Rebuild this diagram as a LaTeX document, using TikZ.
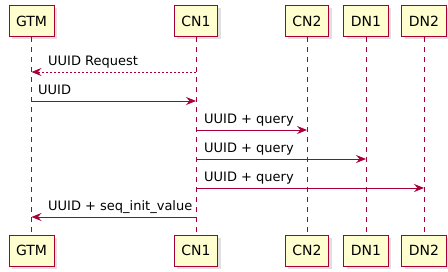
\documentclass[tikz,border=0pt]{standalone}
\usepackage{fontspec}
\setmainfont{DejaVu Sans}
\usetikzlibrary{arrows.meta,shadows}
\definecolor{pred}{HTML}{A80036}
\definecolor{pfill}{HTML}{FEFECE}
\begin{document}
\begin{tikzpicture}[x=1pt,y=-1pt,
 part/.style={draw=pred, fill=pfill, line width=0.9pt, minimum height=31pt, inner xsep=7pt,
   font=\fontsize{14}{16}\selectfont, text=black,
   drop shadow={shadow xshift=3pt, shadow yshift=-3pt, fill=black!40, opacity=0.3}},
 life/.style={draw=pred, line width=0.8pt, dash pattern=on 5pt off 5pt},
 msg/.style={draw=pred, line width=0.9pt, -{Stealth[length=10pt,width=8pt,inset=3.5pt,sep=0pt]}},
 ret/.style={msg, dash pattern=on 2pt off 2pt},
 lbl/.style={font=\fontsize{13}{15}\selectfont, anchor=base west, inner sep=0pt, text=black}]
\useasboundingbox (0,0) rectangle (448,272);
% participants top
\node[part] (gtmT) at (31.5,21) {GTM};
\node[part] (cn1T) at (196,21) {CN1};
\node[part] (cn2T) at (307,21) {CN2};
\node[part] (dn1T) at (366,21) {DN1};
\node[part] (dn2T) at (424,21) {DN2};
% participants bottom
\node[part] (gtmB) at (31.5,250.5) {GTM};
\node[part] (cn1B) at (196,250.5) {CN1};
\node[part] (cn2B) at (307,250.5) {CN2};
\node[part] (dn1B) at (366,250.5) {DN1};
\node[part] (dn2B) at (424,250.5) {DN2};
% lifelines
\draw[life] (gtmT.south) -- (gtmB.north);
\draw[life] (cn1T.south) -- (cn1B.north);
\draw[life] (cn2T.south) -- (cn2B.north);
\draw[life] (dn1T.south) -- (dn1B.north);
\draw[life] (dn2T.south) -- (dn2B.north);
% message points
\coordinate (g1) at (31.5,72);   \coordinate (c1) at (196,72);
\coordinate (g2) at (31.5,101);  \coordinate (c2) at (196,101);
\coordinate (c3) at (196,130);   \coordinate (n3) at (307,130);
\coordinate (c4) at (196,159);   \coordinate (d4) at (366,159);
\coordinate (c5) at (196,188);   \coordinate (e5) at (424,188);
\coordinate (g6) at (31.5,217);  \coordinate (c6) at (196,217);
% messages
\draw[ret] (c1) -- (g1);
\node[lbl] (m1) at (48,65.5) {UUID Request};
\draw[msg] (g2) -- (c2);
\node[lbl] (m2) at (38,94.5) {UUID};
\draw[msg] (c3) -- (n3);
\node[lbl] (m3) at (204,123.5) {UUID + query};
\draw[msg] (c4) -- (d4);
\node[lbl] (m4) at (204,152.5) {UUID + query};
\draw[msg] (c5) -- (e5);
\node[lbl] (m5) at (204,181.5) {UUID + query};
\draw[msg] (c6) -- (g6);
\node[lbl] (m6) at (48,210.5) {UUID + seq\_init\_value};
\end{tikzpicture}
\end{document}
